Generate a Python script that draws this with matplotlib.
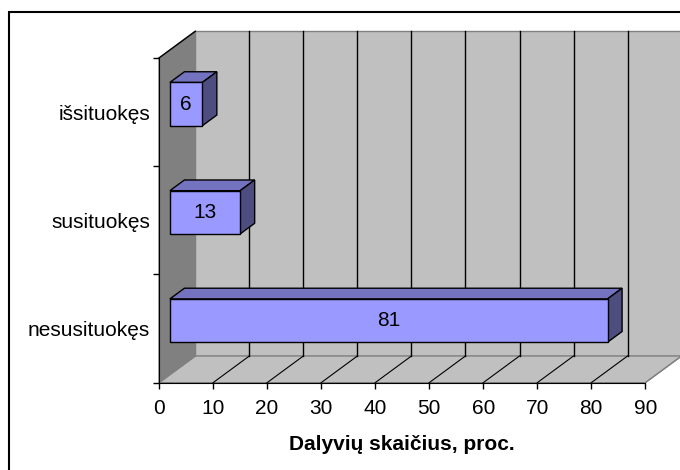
import matplotlib
matplotlib.use("Agg")
import matplotlib.pyplot as plt
import matplotlib.patches as patches

plt.rcParams['font.family'] = ['Liberation Sans', 'DejaVu Sans']

categories = ["nesusituokęs", "susituokęs", "išsituokęs"]
values = [81, 13, 6]
xticks = [0, 10, 20, 30, 40, 50, 60, 70, 80, 90]
xlabel = "Dalyvių skaičius, proc."

# 3d look: depth offset of the back wall in data units
DX = 6.72
DY = 0.247
XMAX = 90
Y0, Y1 = -0.5, 2.5
BAR_H = 0.4
Z0, Z1 = 0.3, 0.7

FRONT = "#9999FF"
TOP = "#7373BF"
SIDE = "#4D4D80"
WALL = "#C0C0C0"
LWALL = "#808080"

fig = plt.figure(figsize=(6.8, 4.7), dpi=100)
ax = fig.add_axes([159 / 680, 1 - 382.7 / 470, (645.3 - 159) / 680, (382.7 - 58) / 470])
ax.set_xlim(0, XMAX)
ax.set_ylim(Y0, Y1)
ax.patch.set_visible(False)

def poly(pts, fc, ec="black", lw=1.0, z=1):
    ax.add_patch(patches.Polygon(pts, closed=True, facecolor=fc, edgecolor=ec,
                                 linewidth=lw, clip_on=False, zorder=z))

# walls and floor
poly([(DX, Y0 + DY), (XMAX + DX, Y0 + DY), (XMAX + DX, Y1 + DY), (DX, Y1 + DY)], WALL, ec="#808080", z=0.5)
poly([(0, Y0), (XMAX, Y0), (XMAX + DX, Y0 + DY), (DX, Y0 + DY)], WALL, ec="#808080", z=0.6)
poly([(0, Y0), (DX, Y0 + DY), (DX, Y1 + DY), (0, Y1)], LWALL, ec="#808080", z=0.7)
ax.plot([0, DX], [Y1, Y1 + DY], color="black", lw=1, clip_on=False, zorder=0.8)

for v in xticks[1:]:
    c = "black" if v < XMAX else "#808080"
    ax.plot([v + DX, v + DX], [Y0 + DY, Y1 + DY], color=c, lw=1, clip_on=False, zorder=0.9)
    ax.plot([v, v + DX], [Y0, Y0 + DY], color=c, lw=0.8, clip_on=False, zorder=0.9)

# bars
for i, v in enumerate(values):
    x0 = Z0 * DX
    y0 = i - BAR_H / 2 + Z0 * DY
    y1 = y0 + BAR_H
    ddx = (Z1 - Z0) * DX
    ddy = (Z1 - Z0) * DY
    poly([(x0, y1), (x0 + v, y1), (x0 + v + ddx, y1 + ddy), (x0 + ddx, y1 + ddy)], TOP, z=2)
    poly([(x0 + v, y0), (x0 + v, y1), (x0 + v + ddx, y1 + ddy), (x0 + v + ddx, y0 + ddy)], SIDE, z=2)
    poly([(x0, y0), (x0 + v, y0), (x0 + v, y1), (x0, y1)], FRONT, z=2)
    ax.text(x0 + v / 2, (y0 + y1) / 2, str(v), ha="center", va="center", fontsize=15, zorder=3)

# axes
for s in ["top", "right"]:
    ax.spines[s].set_visible(False)
ax.spines["left"].set_zorder(4)
ax.spines["bottom"].set_zorder(4)
ax.set_xticks(xticks)
ax.tick_params(axis="x", direction="out", length=4.3, width=1, labelsize=15, pad=7.5)
ax.set_yticks(range(len(categories)))
ax.set_yticklabels(categories)
ax.set_yticks([-0.5, 0.5, 1.5, 2.5], minor=True)
ax.tick_params(axis="y", which="major", length=0, labelsize=15, pad=6.5)
ax.tick_params(axis="y", which="minor", direction="out", length=4.3, width=1)
ax.set_xlabel(xlabel, fontsize=15, fontweight="bold", labelpad=12)

# chart frame
fig.add_artist(patches.Rectangle((9 / 680, -0.1), 1.2, 1.1 - 12 / 470, transform=fig.transFigure,
                                 fill=False, edgecolor="black", linewidth=1.5))

fig.savefig("out.png", dpi=100)
